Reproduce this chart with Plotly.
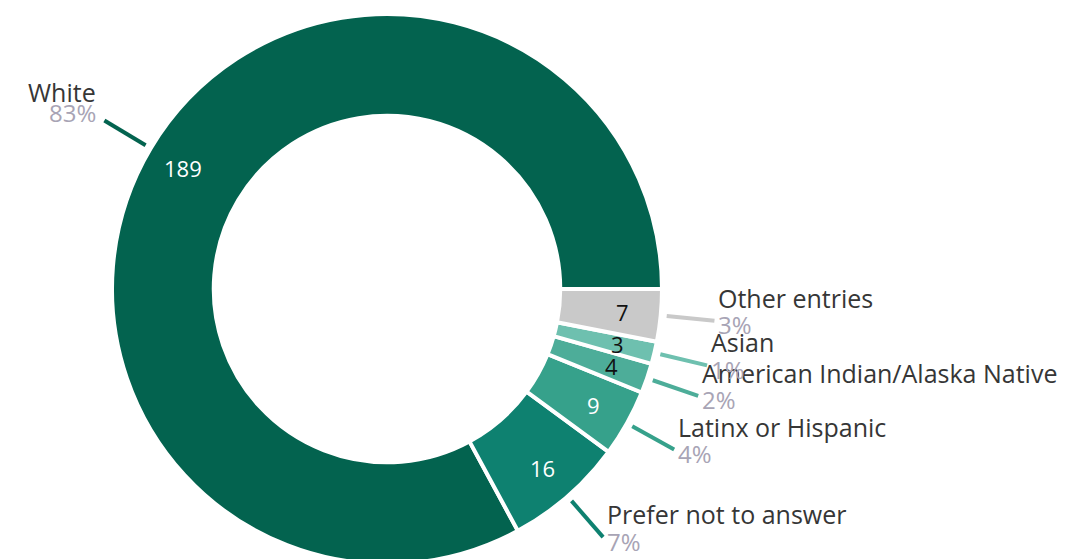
import math
import plotly.graph_objects as go

# ---- data ----
categories = ["White", "Prefer not to answer", "Latinx or Hispanic",
              "American Indian/Alaska Native", "Asian", "Other entries"]
counts = [189, 16, 9, 4, 3, 7]
pct_labels = ["83%", "7%", "4%", "2%", "1%", "3%"]
slice_colors = ["#03634F", "#0E8170", "#36A18B", "#4DAD99", "#6EC0AF", "#C9C9C9"]
value_text_colors = ["#FFFFFF", "#FFFFFF", "#FFFFFF", "#111111", "#111111", "#111111"]

# ---- geometry (pixels) ----
W, H = 1090, 559
CX, CY = 379, 281
R = 275
HOLE = 0.63
FONT = "Open Sans"

def px(x, y):
    return x / W, 1 - y / H

total = sum(counts)
# plotly's counterclockwise mode ends the first slice at `rotation`;
# we want the first slice to start at 3 o'clock going counterclockwise
rotation = 90 + (total - counts[0]) / total * 360

fig = go.Figure(go.Pie(
    labels=categories,
    values=counts,
    sort=False,
    direction="counterclockwise",
    rotation=rotation,
    hole=HOLE,
    marker=dict(colors=slice_colors, line=dict(color="#FFFFFF", width=4)),
    textinfo="none",
    hoverinfo="label+value+percent",
    showlegend=False,
    domain=dict(x=[(CX - R) / W, (CX + R) / W],
                y=[1 - (CY + R) / H, 1 - (CY - R) / H]),
))

annotations = []
shapes = []
cum = 0
for name, v, pct, col, tcol in zip(categories, counts, pct_labels, slice_colors, value_text_colors):
    mid = math.radians((cum + v / 2) / total * 360)
    cum += v
    c, s = math.cos(mid), math.sin(mid)
    # value inside the ring
    rx, ry = CX + 237 * c, CY - 237 * s
    x, y = px(rx, ry)
    annotations.append(dict(x=x, y=y, xref="paper", yref="paper", text=str(v),
                            showarrow=False, xanchor="center", yanchor="middle",
                            font=dict(family=FONT, size=22, color=tcol)))
    # leader line
    x1, y1 = CX + 281 * c, CY - 281 * s
    x2, y2 = CX + 329 * c, CY - 329 * s
    a1, b1 = px(x1, y1)
    a2, b2 = px(x2, y2)
    shapes.append(dict(type="line", xref="paper", yref="paper", x0=a1, y0=b1, x1=a2, y1=b2,
                       line=dict(color=col, width=4)))
    # outside label
    if c < 0:
        lx, anchor = x2 - 6, "right"
        ny, py_ = y2 - 29, y2 - 8
    else:
        lx, anchor = x2 + 2, "left"
        ny, py_ = y2 - 23, y2 + 4
    nx, nyp = px(lx, ny)
    _, pyp = px(lx, py_)
    annotations.append(dict(x=nx, y=nyp, xref="paper", yref="paper", text=name,
                            showarrow=False, xanchor=anchor, yanchor="middle",
                            font=dict(family=FONT, size=25, color="#363636")))
    annotations.append(dict(x=nx, y=pyp, xref="paper", yref="paper", text=pct,
                            showarrow=False, xanchor=anchor, yanchor="middle",
                            font=dict(family=FONT, size=24, color="#A8A4B5")))

fig.update_layout(
    width=W, height=H,
    margin=dict(l=0, r=0, t=0, b=0),
    paper_bgcolor="#FFFFFF",
    plot_bgcolor="#FFFFFF",
    annotations=annotations,
    shapes=shapes,
)

fig.write_html("out.html")
